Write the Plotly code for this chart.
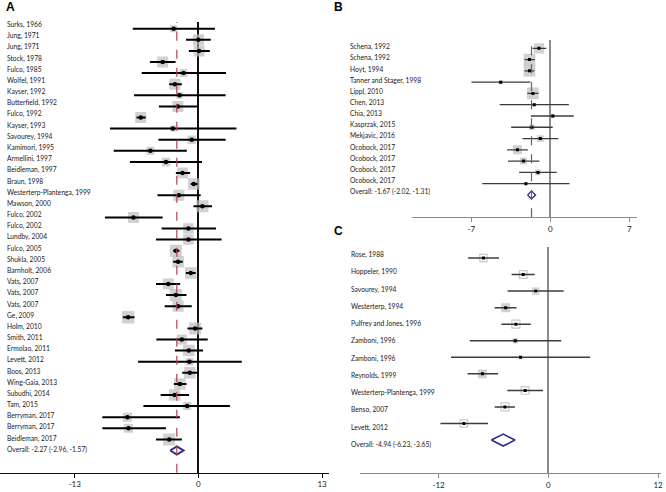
import plotly.graph_objects as go

W, H = 666, 492

# ---------------- Panel A data ----------------
a_labels = ["Surks, 1966", "Jung, 1971", "Jung, 1971", "Stock, 1978", "Fulco, 1985", "Wolfel, 1991",
            "Kayser, 1992", "Butterfield, 1992", "Fulco, 1992", "Kayser, 1993", "Savourey, 1994",
            "Kamimori, 1995", "Armellini, 1997", "Beidleman, 1997", "Braun, 1998",
            "Westerterp-Plantenga, 1999", "Mawson, 2000", "Fulco, 2002", "Fulco, 2002", "Lundby, 2004",
            "Fulco, 2005", "Shukla, 2005", "Barnholt, 2006", "Vats, 2007", "Vats, 2007", "Vats, 2007",
            "Ge, 2009", "Holm, 2010", "Smith, 2011", "Ermolao, 2011", "Levett, 2012", "Boos, 2013",
            "Wing-Gaia, 2013", "Subudhi, 2014", "Tam, 2015", "Berryman, 2017", "Berryman, 2017",
            "Beidleman, 2017"]
a_est = [-2.6, 0.0, 0.07, -3.76, -1.57, -2.47, -1.99, -2.16, -6.06, -2.68, -0.7, -5.05, -3.41, -1.67,
         -0.49, -2.06, 0.42, -6.83, -1.05, -1.05, -2.37, -2.13, -0.8, -3.17, -2.37, -2.13, -7.39, -0.35,
         -1.74, -1.01, -0.94, -0.9, -1.95, -2.5, -1.18, -7.46, -7.35, -3.07]
a_lo = [-6.9, -1.3, -1.0, -5.1, -5.96, -3.07, -6.76, -4.15, -6.5, -9.3, -4.2, -8.9, -7.2, -2.37,
        -0.8, -4.3, -0.52, -9.83, -3.87, -4.46, -2.65, -2.65, -1.32, -4.46, -3.41, -3.55, -7.94, -1.15,
        -4.42, -2.47, -6.34, -1.7, -2.58, -3.97, -5.78, -10.1, -10.1, -4.46]
a_hi = [1.74, 1.3, 1.2, -2.4, 2.9, -1.74, 2.86, -0.14, -5.54, 4.0, 2.86, -1.22, 0.38, -0.87,
        -0.1, 0.24, 1.43, -3.76, 1.85, 2.44, -2.0, -1.64, -0.28, -1.92, -1.25, -0.7, -6.72, 0.42,
        0.98, 0.49, 4.56, -0.03, -1.25, -0.98, 3.31, -1.95, -3.41, -1.74]
a_weight = [7, 11, 11, 11, 8, 11, 6.5, 11, 11, 6, 8.5, 8, 8.5, 11, 11.5, 11, 12, 11, 10.5, 10.5,
            12, 11.5, 11.5, 11, 12, 11, 12.5, 12, 10, 11.5, 7.5, 11.5, 11.5, 11.5, 8, 9, 9, 12]
a_overall = [-2.27, -2.96, -1.57]
a_ticks = [-13, 0, 13]

# ---------------- Panel B data ----------------
b_labels = ["Schena, 1992", "Schena, 1992", "Hoyt, 1994", "Tanner and Stager, 1998", "Lippl, 2010",
            "Chen, 2013", "Chia, 2013", "Kasprzak, 2015", "Mekjavic, 2016", "Ocobock, 2017",
            "Ocobock, 2017", "Ocobock, 2017", "Ocobock, 2017"]
b_est = [-1.01, -1.85, -1.85, -4.4, -1.55, -1.43, 0.21, -1.64, -0.89, -2.92, -2.38, -1.1, -2.17]
b_lo = [-1.58, -2.29, -2.29, -7.0, -2.05, -4.49, -1.73, -3.48, -2.47, -3.84, -3.75, -2.77, -6.04]
b_hi = [-0.36, -1.37, -1.43, -1.76, -1.04, 1.64, 2.08, 0.21, 0.71, -1.99, -0.98, 0.57, 1.7]
b_weight = [10.3, 11.7, 11.7, 4, 11.7, 3.3, 4.3, 5.7, 6.7, 9, 7, 5.7, 2.7]
b_overall = [-1.67, -2.02, -1.31]
b_ticks = [-7, 0, 7]

# ---------------- Panel C data ----------------
c_labels = ["Rose, 1988", "Hoppeler, 1990", "Savourey, 1994", "Westerterp, 1994",
            "Pulfrey and Jones, 1996", "Zamboni, 1996", "Zamboni, 1996", "Reynolds, 1999",
            "Westerterp-Plantenga, 1999", "Benso, 2007", "Levett, 2012"]
c_est = [-7.1, -2.75, -1.38, -4.67, -3.55, -3.62, -3.04, -7.21, -2.54, -4.75, -9.24]
c_lo = [-8.77, -4.02, -4.46, -5.87, -5.14, -8.59, -10.65, -8.84, -4.49, -5.87, -11.8]
c_hi = [-5.4, -1.49, 1.67, -3.48, -1.92, 1.41, 4.57, -5.5, -0.58, -3.66, -6.59]
c_weight = [7.3, 7.7, 6, 9, 8, 5.3, 3, 8.7, 7.7, 8, 7.3]
c_filled = [False, False, False, True, False, True, True, True, False, False, False]
c_overall = [-4.94, -6.23, -3.65]
c_ticks = [-12, 0, 12]

FONT = "Lato"

# panel geometry (pixels)
panels = {
    "A": dict(x0=0, x1=330, zero=199, ppu=9.54, ytop=22, ybot=472.7, first=28.7, pitch=11.1,
              lab_first=24.5, lab_pitch=11.18, lab_x=5, line="#111111", whisk="#000000", ew=2.0,
              zl="#111111", dot=dict(symbol="circle", size=4.5), dh=0.36, dwid=2,
              dashed=True),
    "B": dict(x0=413, x1=639, zero=552, ppu=11.31, ytop=40, ybot=217.3, first=48.3, pitch=11.28,
              lab_first=46.7, lab_pitch=11.15, lab_x=349, line="#8c8c8c", whisk="#3c3c3c", ew=1.3,
              zl="#8c8c8c", dot=dict(symbol="square", size=3), dh=0.36, dwid=1.3,
              dashed=True),
    "C": dict(x0=361, x1=663, zero=550, ppu=9.17, ytop=247, ybot=473.3, first=258, pitch=16.55,
              lab_first=254.5, lab_pitch=17.25, lab_x=350, line="#8c8c8c", whisk="#3c3c3c", ew=1.5,
              zl="#8c8c8c", dot=dict(symbol="square", size=3), dh=0.36, dwid=1.6,
              dashed=False),
}

data = {
    "A": (a_labels, a_est, a_lo, a_hi, a_weight, [True] * len(a_est), a_overall, a_ticks),
    "B": (b_labels, b_est, b_lo, b_hi, b_weight, [True] * len(b_est), b_overall, b_ticks),
    "C": (c_labels, c_est, c_lo, c_hi, c_weight, c_filled, c_overall, c_ticks),
}

fig = go.Figure()
layout = dict(width=W, height=H, margin=dict(l=0, r=0, t=0, b=0), showlegend=False,
              plot_bgcolor="white", paper_bgcolor="white", annotations=[], shapes=[])

for k, key in enumerate(["A", "B", "C"]):
    g = panels[key]
    labels, est, lo, hi, wt, filled, overall, ticks = data[key]
    n = len(est)
    sfx = "" if k == 0 else str(k + 1)
    xa, ya = "x" + sfx, "y" + sfx
    rows = [-i for i in range(n)]
    orow = -n

    # axes
    xr = [(g["x0"] - g["zero"]) / g["ppu"], (g["x1"] - g["zero"]) / g["ppu"]]
    yr = [-(g["ybot"] - g["first"]) / g["pitch"], -(g["ytop"] - g["first"]) / g["pitch"]]
    layout["xaxis" + sfx] = dict(domain=[g["x0"] / W, g["x1"] / W], range=xr, anchor=ya,
                                 tickvals=ticks, ticktext=[str(t) for t in ticks],
                                 showgrid=False, zeroline=True, zerolinecolor=g["zl"],
                                 zerolinewidth=1.5, showline=True, linecolor=g["line"],
                                 linewidth=1.3, ticks="outside", ticklen=4,
                                 tickcolor=g["line"], tickwidth=1.3,
                                 tickfont=dict(family="Lato", size=8, color="#222"), fixedrange=True)
    layout["yaxis" + sfx] = dict(domain=[1 - g["ybot"] / H, 1 - g["ytop"] / H], range=yr,
                                 anchor=xa, visible=False, showgrid=False, zeroline=False,
                                 fixedrange=True)

    # boxes (weights)
    fx = [e for e, f in zip(est, filled) if f]
    fy = [r for r, f in zip(rows, filled) if f]
    fw = [w for w, f in zip(wt, filled) if f]
    fig.add_trace(go.Scatter(x=fx, y=fy, mode="markers", xaxis=xa, yaxis=ya,
                             marker=dict(symbol="square", size=fw, color="#bdbdbd",
                                         line=dict(width=0)), hoverinfo="skip"))
    hx = [e for e, f in zip(est, filled) if not f]
    if hx:
        hy = [r for r, f in zip(rows, filled) if not f]
        hw = [w for w, f in zip(wt, filled) if not f]
        fig.add_trace(go.Scatter(x=hx, y=hy, mode="markers", xaxis=xa, yaxis=ya,
                                 marker=dict(symbol="square-open", size=hw, color="#b3b3b3",
                                             line=dict(width=1.2, color="#b3b3b3")),
                                 hoverinfo="skip"))

    # CI whiskers + point estimates
    fig.add_trace(go.Scatter(x=est, y=rows, mode="markers", xaxis=xa, yaxis=ya,
                             marker=dict(color="black", **g["dot"]),
                             error_x=dict(type="data", symmetric=False,
                                          array=[h - e for h, e in zip(hi, est)],
                                          arrayminus=[e - l for e, l in zip(est, lo)],
                                          width=0, thickness=g["ew"], color=g["whisk"])))

    # overall diamond
    oe, ol, oh = overall
    d = g["dh"]
    fig.add_trace(go.Scatter(x=[ol, oe, oh, oe, ol], y=[orow, orow + d, orow, orow - d, orow],
                             mode="lines", fill="toself", fillcolor="white", xaxis=xa, yaxis=ya,
                             line=dict(color="#2a2d8c", width=g["dwid"]), hoverinfo="skip"))

    # dashed overall line
    if g["dashed"]:
        layout["shapes"].append(dict(type="line", xref=xa, yref=ya + " domain", x0=oe, x1=oe,
                                     y0=0, y1=1, line=dict(color="#b2434c", width=1.2, dash="dash"),
                                     layer="above"))

    # study labels
    all_labels = labels + [f"Overall: {oe:.2f} ({ol:.2f}, {oh:.2f})"]
    for i, t in enumerate(all_labels):
        py = g["lab_first"] + g["lab_pitch"] * i
        layout["annotations"].append(dict(text=t, xref="paper", yref="paper", x=g["lab_x"] / W,
                                          y=1 - py / H, xanchor="left", yanchor="middle",
                                          showarrow=False,
                                          font=dict(family=FONT, size=6.7, color="#1a1a1a")))

# panel letters
for t, px, py in [("A", 4, 7), ("B", 333, 7), ("C", 333, 231)]:
    layout["annotations"].append(dict(text=f"<b>{t}</b>", xref="paper", yref="paper", x=px / W,
                                      y=1 - py / H, xanchor="left", yanchor="middle",
                                      showarrow=False,
                                      font=dict(family="Liberation Sans", size=12, color="black")))

fig.update_layout(**layout)
fig.write_html("out.html", config={"displayModeBar": False},
               post_script="document.body.style.margin='0';document.body.style.overflow='hidden';")
